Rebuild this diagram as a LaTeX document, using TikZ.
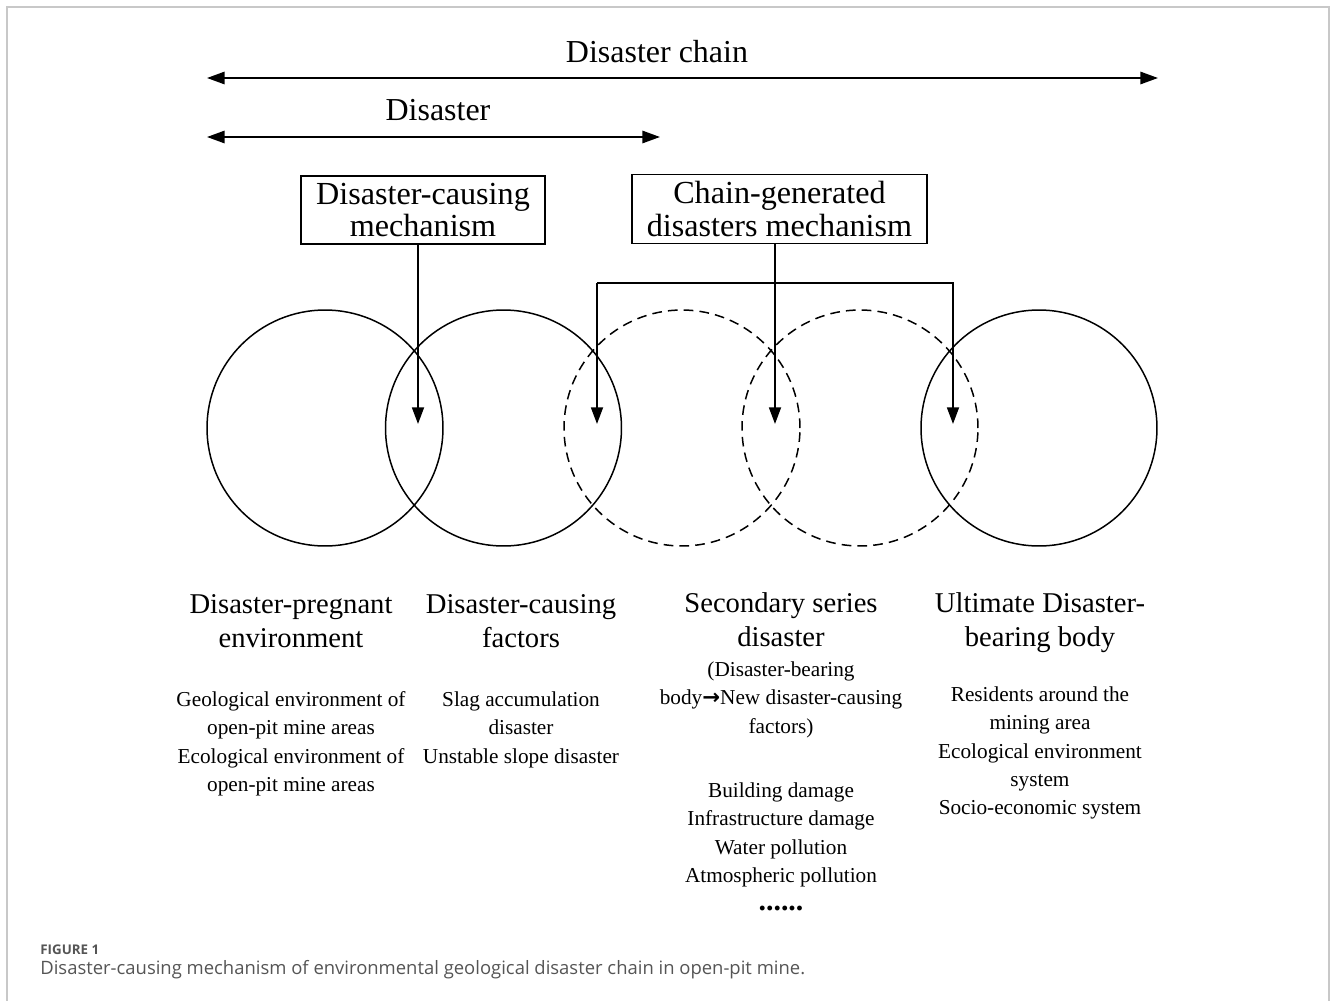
\documentclass[tikz,border=0pt]{standalone}
\usepackage{fontspec}
\setmainfont{Liberation Serif}
\newfontfamily\capfont{Open Sans}
\newfontfamily\arrowfont{DejaVu Sans}
\usetikzlibrary{arrows.meta}
\definecolor{framegray}{HTML}{C8C8C8}
\definecolor{captiongray}{HTML}{555555}
\tikzset{
	droparrow/.style={line width=1.1pt,-{Triangle[length=9.5pt,width=6.8pt]}},
	spanarrow/.style={line width=1.1pt,{Triangle[length=10pt,width=7pt]}-{Triangle[length=10pt,width=7pt]}},
	mechbox/.style={draw,line width=0.9pt,inner sep=0pt,align=center,font=\fontsize{18.3}{18.4}\selectfont},
	ring/.style={draw,circle,line width=0.85pt,minimum size=4.72cm,inner sep=0pt},
	dashring/.style={ring,dash pattern=on 5.5pt off 3.5pt},
	headlabel/.style={font=\fontsize{18.2}{20}\selectfont},
	biglabel/.style={anchor=north,align=center,inner sep=0pt,font=\fontsize{16.3}{19.3}\selectfont},
	smalllabel/.style={anchor=north,align=center,inner sep=0pt,font=\fontsize{12.1}{16.2}\selectfont},
	caplabel/.style={anchor=west,inner sep=0pt,text=captiongray}
}
\begin{document}
\begin{tikzpicture}[x=0.02cm,y=-0.02cm]
	\useasboundingbox (0,0) rectangle (1330,1001);
	\draw[framegray,line width=0.8pt] (7,1001) -- (7,7) -- (1329,7) -- (1329,1001);

	\coordinate (chainL) at (207,78);
	\coordinate (chainR) at (1158,78);
	\draw[spanarrow] (chainL) -- (chainR);
	\node[headlabel] (chainT) at (657,52) {Disaster chain};

	\coordinate (disL) at (207,137);
	\coordinate (disR) at (660,137);
	\draw[spanarrow] (disL) -- (disR);
	\node[headlabel] (disT) at (438,110) {Disaster};

	\node[mechbox,minimum width=4.88cm,minimum height=1.36cm] (causing) at (423,210) {Disaster-causing\\mechanism};
	\node[mechbox,minimum width=5.9cm,minimum height=1.38cm] (chaingen) at (779.5,209) {Chain-generated\\disasters mechanism};

	\node[ring] (pregnant) at (325,428) {};
	\node[ring] (factors) at (503.5,428) {};
	\node[dashring] (secondA) at (682,428) {};
	\node[dashring] (secondB) at (860,428) {};
	\node[ring] (bearing) at (1039,428) {};

	\coordinate (hitA) at (418,424);
	\coordinate (hitB) at (597,424);
	\coordinate (hitC) at (775,424);
	\coordinate (hitD) at (953,424);
	\coordinate (fork) at (775,283);

	\draw[droparrow] (causing.south -| hitA) -- (hitA);
	\draw[droparrow] (chaingen.south -| hitC) -- (hitC);
	\draw[droparrow] (fork -| hitB) -- (hitB);
	\draw[droparrow] (fork -| hitB) -- (fork -| hitD) -- (hitD);

	\node[biglabel] (pregT) at (291,594) {Disaster-pregnant\\environment};
	\node[biglabel] (factT) at (521,594) {Disaster-causing\\factors};
	\node[biglabel] (secT) at (781,592) {Secondary series\\disaster};
	\node[biglabel] (ultT) at (1040,592) {Ultimate Disaster-\\bearing body};

	\node[smalllabel] (pregL) at (291,691) {Geological environment of\\open-pit mine areas\\Ecological environment of\\open-pit mine areas};
	\node[smalllabel] (factL) at (521,691) {Slag accumulation\\disaster\\Unstable slope disaster};
	\node[smalllabel] (secP) at (781,661) {(Disaster-bearing\\body{\arrowfont\bfseries →}New disaster-causing\\factors)};
	\node[smalllabel] (secL) at (781,782) {Building damage\\Infrastructure damage\\Water pollution\\Atmospheric pollution\\{\bfseries\fontsize{17}{15}\selectfont......}};
	\node[smalllabel] (ultL) at (1040,686) {Residents around the\\mining area\\Ecological environment\\system\\Socio-economic system};

	\node[caplabel,font=\capfont\bfseries\fontsize{7.6}{9}\selectfont] (figno) at (40,950) {FIGURE 1};
	\node[caplabel,font=\capfont\fontsize{10.5}{12}\selectfont] (caption) at (40,970) {Disaster-causing mechanism of environmental geological disaster chain in open-pit mine.};
\end{tikzpicture}
\end{document}
